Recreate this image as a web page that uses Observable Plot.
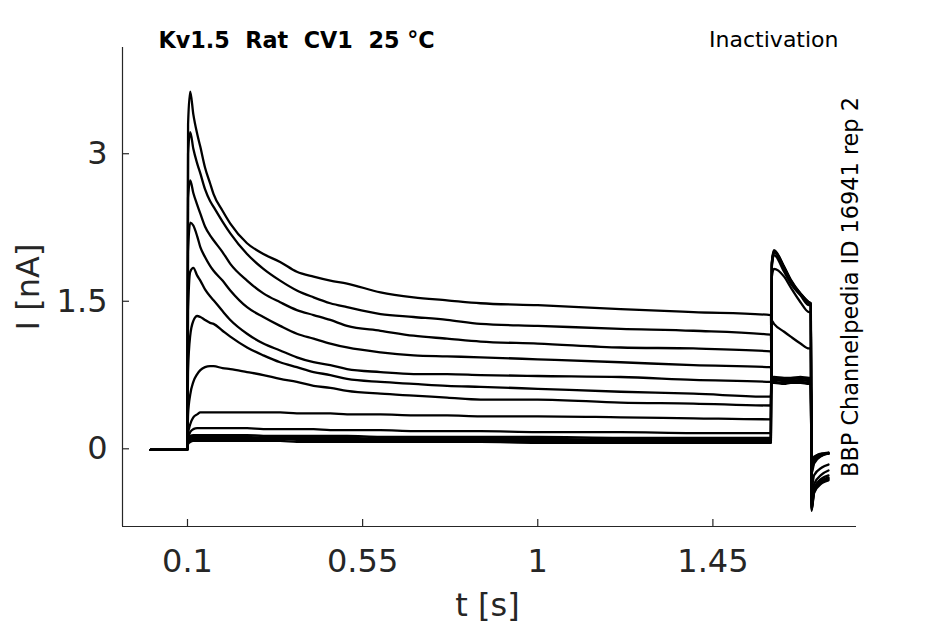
<!DOCTYPE html>
<html>
<head>
<meta charset="utf-8">
<script src="https://cdn.jsdelivr.net/npm/d3@7"></script>
<script src="https://cdn.jsdelivr.net/npm/@observablehq/plot@0.6"></script>
<style>
  html, body { margin: 0; padding: 0; background: #fff; }
</style>
</head>
<body>
<div id="chart"></div>
<script>
// Time samples (s)
const t = [0.005, 0.0995, 0.1015, 0.107, 0.115, 0.125, 0.133, 0.145, 0.158, 0.167, 0.19, 0.21, 0.253, 0.295, 0.338, 0.381, 0.424, 0.467, 0.51, 0.596, 0.681, 0.767, 0.853, 1.0, 1.213, 1.4, 1.599, 1.6015, 1.607, 1.633, 1.65, 1.675, 1.697, 1.7015, 1.7035, 1.71, 1.73, 1.747];

// Current traces (nA), one per sweep
const trace1  = [-0.01, -0.01, 3.30, 3.63, 3.40, 3.20, 3.07, 2.86, 2.70, 2.59, 2.42, 2.29, 2.09, 1.98, 1.90, 1.80, 1.75, 1.71, 1.68, 1.59, 1.54, 1.51, 1.48, 1.46, 1.42, 1.39, 1.36, 0.70, 0.71, 0.69, 0.70, 0.69, 0.70, 0.70, -0.25, -0.15, -0.07, -0.04];
const trace2  = [-0.01, -0.01, 3.00, 3.22, 3.05, 2.90, 2.80, 2.64, 2.52, 2.46, 2.31, 2.19, 1.98, 1.83, 1.71, 1.61, 1.54, 1.48, 1.44, 1.37, 1.34, 1.31, 1.27, 1.25, 1.22, 1.20, 1.16, 0.71, 0.72, 0.71, 0.71, 0.72, 0.71, 0.71, -0.22, -0.13, -0.07, -0.05];
const trace3  = [-0.01, -0.01, 2.55, 2.73, 2.60, 2.48, 2.39, 2.26, 2.17, 2.12, 2.00, 1.88, 1.71, 1.58, 1.49, 1.41, 1.36, 1.31, 1.25, 1.20, 1.15, 1.12, 1.09, 1.07, 1.03, 1.02, 0.99, 0.69, 0.70, 0.69, 0.69, 0.70, 0.69, 0.69, -0.20, -0.11, -0.06, -0.05];
const trace4  = [-0.01, -0.01, 2.00, 2.30, 2.27, 2.16, 2.05, 1.95, 1.86, 1.81, 1.71, 1.61, 1.44, 1.34, 1.25, 1.17, 1.12, 1.07, 1.03, 0.98, 0.95, 0.94, 0.93, 0.91, 0.88, 0.85, 0.83, 0.68, 0.68, 0.67, 0.68, 0.68, 0.67, 0.68, -0.18, -0.10, -0.06, -0.05];
const trace5  = [-0.01, -0.01, 1.40, 1.80, 1.84, 1.76, 1.71, 1.62, 1.55, 1.51, 1.40, 1.31, 1.17, 1.07, 1.00, 0.93, 0.88, 0.85, 0.81, 0.78, 0.76, 0.76, 0.75, 0.74, 0.73, 0.70, 0.68, 0.67, 0.67, 0.66, 0.67, 0.67, 0.66, 0.67, -0.16, -0.09, -0.05, -0.05];
const trace6  = [-0.01, -0.01, 0.80, 1.15, 1.30, 1.35, 1.34, 1.31, 1.28, 1.27, 1.20, 1.14, 1.03, 0.95, 0.88, 0.83, 0.78, 0.75, 0.71, 0.68, 0.66, 0.64, 0.63, 0.61, 0.58, 0.56, 0.53, 0.72, 0.73, 0.72, 0.72, 0.73, 0.72, 0.72, -0.14, -0.08, -0.05, -0.04];
const trace7  = [-0.01, -0.01, 0.35, 0.55, 0.68, 0.76, 0.80, 0.83, 0.84, 0.84, 0.82, 0.81, 0.78, 0.75, 0.71, 0.68, 0.64, 0.62, 0.59, 0.56, 0.54, 0.52, 0.50, 0.50, 0.47, 0.46, 0.44, 1.30, 1.27, 1.19, 1.14, 1.07, 1.02, 1.02, -0.40, -0.27, -0.19, -0.16];
const trace8  = [-0.01, -0.01, 0.15, 0.25, 0.32, 0.35, 0.37, 0.37, 0.37, 0.37, 0.37, 0.37, 0.37, 0.37, 0.37, 0.36, 0.36, 0.36, 0.35, 0.35, 0.34, 0.34, 0.33, 0.33, 0.32, 0.31, 0.30, 1.75, 1.83, 1.75, 1.64, 1.49, 1.39, 1.39, -0.52, -0.36, -0.26, -0.22];
const trace9  = [-0.01, -0.01, 0.10, 0.17, 0.20, 0.21, 0.21, 0.21, 0.21, 0.21, 0.21, 0.21, 0.21, 0.20, 0.20, 0.20, 0.20, 0.19, 0.19, 0.19, 0.18, 0.18, 0.18, 0.17, 0.17, 0.16, 0.16, 1.85, 1.97, 1.80, 1.68, 1.56, 1.46, 1.46, -0.57, -0.40, -0.30, -0.27];
const trace10 = [-0.01, -0.01, 0.08, 0.13, 0.14, 0.14, 0.14, 0.14, 0.14, 0.14, 0.14, 0.14, 0.14, 0.13, 0.13, 0.13, 0.13, 0.13, 0.13, 0.12, 0.12, 0.12, 0.12, 0.12, 0.11, 0.11, 0.11, 1.90, 2.02, 1.85, 1.72, 1.58, 1.49, 1.48, -0.60, -0.42, -0.32, -0.29];
const trace11 = [-0.01, -0.01, 0.07, 0.11, 0.12, 0.12, 0.12, 0.12, 0.12, 0.12, 0.12, 0.12, 0.12, 0.11, 0.11, 0.11, 0.11, 0.11, 0.11, 0.10, 0.10, 0.10, 0.10, 0.10, 0.09, 0.09, 0.09, 1.88, 2.00, 1.84, 1.71, 1.57, 1.48, 1.47, -0.61, -0.43, -0.33, -0.30];
const trace12 = [-0.01, -0.01, 0.06, 0.09, 0.10, 0.10, 0.10, 0.10, 0.10, 0.10, 0.10, 0.10, 0.10, 0.10, 0.10, 0.09, 0.09, 0.09, 0.09, 0.09, 0.09, 0.09, 0.08, 0.08, 0.08, 0.08, 0.08, 1.89, 2.01, 1.85, 1.71, 1.58, 1.49, 1.48, -0.62, -0.44, -0.34, -0.31];
const trace13 = [-0.01, -0.01, 0.05, 0.07, 0.08, 0.08, 0.08, 0.08, 0.08, 0.08, 0.08, 0.08, 0.08, 0.08, 0.08, 0.07, 0.07, 0.07, 0.07, 0.07, 0.07, 0.07, 0.07, 0.06, 0.06, 0.06, 0.06, 1.87, 2.00, 1.84, 1.70, 1.57, 1.48, 1.47, -0.63, -0.45, -0.35, -0.32];

const traces = [trace1, trace2, trace3, trace4, trace5, trace6, trace7, trace8, trace9, trace10, trace11, trace12, trace13];

// Axes
const xDomain = [-0.067, 1.819];
const yDomain = [-0.79, 4.08];
const xTicks = [0.1, 0.55, 1, 1.45];
const yTicks = [0, 1.5, 3];

// Texts
const titleText = "Kv1.5  Rat  CV1  25 °C";
const protocolText = "Inactivation";
const sourceText = "BBP Channelpedia ID 16941 rep 2";
const xLabel = "t [s]";
const yLabel = "I [nA]";

const rows = traces.flatMap((vals, k) => vals.map((v, j) => ({sweep: k, t: t[j], i: v})));

const W = 945, H = 624;
const mL = 122, mR = 89, mT = 47, mB = 98;
const frameW = W - mL - mR, frameH = H - mT - mB;
const axisColor = "#262626";

const chart = Plot.plot({
  width: W,
  height: H,
  marginLeft: mL,
  marginRight: mR,
  marginTop: mT,
  marginBottom: mB,
  style: {fontFamily: "DejaVu Sans", fontSize: "32px", color: axisColor, background: "white", overflow: "visible"},
  x: {domain: xDomain, ticks: xTicks, tickSize: 0, tickPadding: 23, tickFormat: d => String(d), label: null},
  y: {domain: yDomain, ticks: yTicks, tickSize: 0, tickPadding: 15, tickFormat: d => String(d), label: null},
  marks: [
    Plot.ruleY([yDomain[0]], {stroke: axisColor, strokeWidth: 1.2}),
    Plot.ruleX([xDomain[0]], {stroke: axisColor, strokeWidth: 1.2}),
    Plot.tickX(xTicks, {x: d => d, stroke: axisColor, strokeWidth: 1.2, insetTop: frameH - 7}),
    Plot.tickY(yTicks, {y: d => d, stroke: axisColor, strokeWidth: 1.2, insetRight: frameW - 7}),
    Plot.line(rows, {x: "t", y: "i", z: "sweep", stroke: "black", strokeWidth: 2.3, strokeLinejoin: "round", curve: "monotone-x"}),
    Plot.text([titleText], {text: d => d, frameAnchor: "top-left", textAnchor: "start", lineAnchor: "middle", dx: 36, dy: -7, fontSize: 22.3, fontWeight: "bold", fill: "black"}),
    Plot.text([protocolText], {text: d => d, frameAnchor: "top-right", textAnchor: "end", lineAnchor: "middle", dx: -18, dy: -8, fontSize: 22, fill: "black"}),
    Plot.text([sourceText], {text: d => d, frameAnchor: "right", textAnchor: "middle", lineAnchor: "middle", rotate: -90, dx: -6, fontSize: 22.4, fill: "black"}),
    Plot.text([xLabel], {text: d => d, frameAnchor: "bottom", textAnchor: "middle", lineAnchor: "middle", dx: -2, dy: 79, fontSize: 32, fill: axisColor}),
    Plot.text([yLabel], {text: d => d, frameAnchor: "left", textAnchor: "middle", lineAnchor: "middle", rotate: -90, dx: -94, fontSize: 32, fill: axisColor})
  ]
});

document.getElementById("chart").appendChild(chart);
</script>
</body>
</html>
